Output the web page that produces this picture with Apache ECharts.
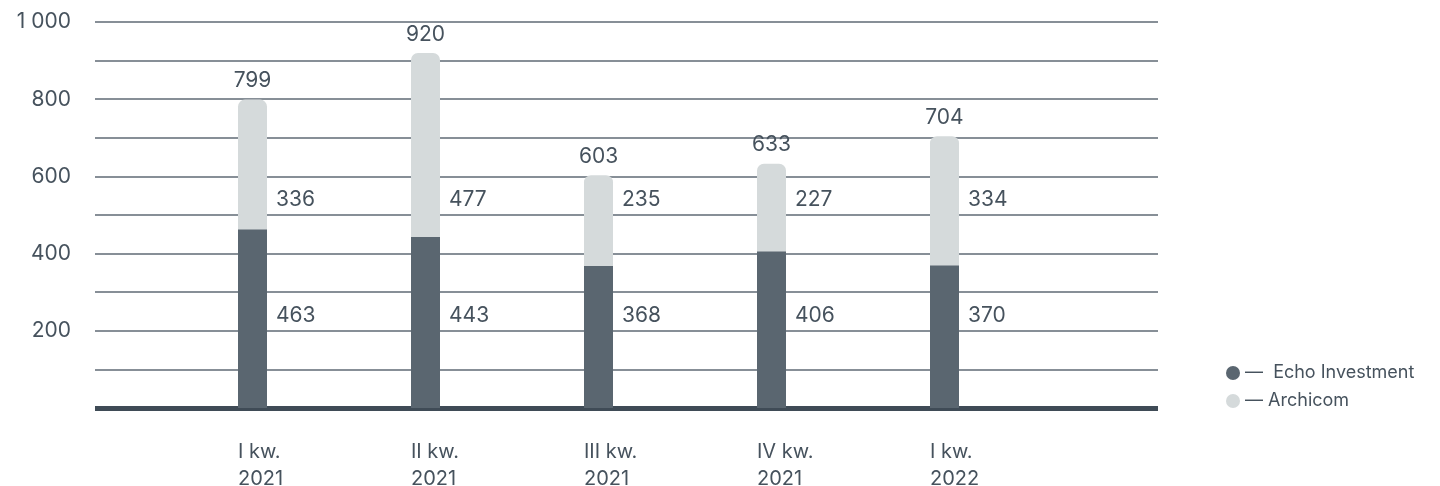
<!DOCTYPE html>
<html>
<head>
<meta charset="utf-8">
<script src="https://cdn.jsdelivr.net/npm/echarts@6/dist/echarts.min.js"></script>
<style>
html,body{margin:0;padding:0;background:#fff;}
#c{width:1440px;height:486px;}
</style>
</head>
<body>
<div id="c"></div>
<script>
const categories = ["I kw.\n2021", "II kw.\n2021", "III kw.\n2021", "IV kw.\n2021", "I kw.\n2022"];
const echoInvestment = [463, 443, 368, 406, 370];
const archicom = [336, 477, 235, 227, 334];
const yTicks = [200, 400, 600, 800, 1000];
const seriesNames = ["Echo Investment", "Archicom"];

const totals = echoInvestment.map((v, i) => v + archicom[i]);

const FONT = 'Inter, "Open Sans", sans-serif';
const TXT = '#46525d';
const DARK = '#5a6670';
const LIGHT = '#d5dadb';
const LINE = '#5f6a74';

const chart = echarts.init(document.getElementById('c'), null, {renderer: 'canvas'});

function fmtY(v) {
  if (yTicks.indexOf(v) < 0) return '';
  return String(v).replace(/\B(?=(\d{3})+(?!\d))/g, ' ');
}

function buildOption(echoPos, archPos) {
  return {
    animation: false,
    textStyle: {fontFamily: FONT},
    grid: [
      {left: 95, right: 282, top: 22, bottom: 78, outerBoundsMode: 'none', containLabel: false},
      {left: 166, right: 409, top: 22, bottom: 78, outerBoundsMode: 'none', containLabel: false},
      {left: 151.5, right: 423.5, top: 22, bottom: 78, outerBoundsMode: 'none', containLabel: false}
    ],
    xAxis: [
      {gridIndex: 0, type: 'value', min: 0, max: 1,
        axisLine: {show: true, lineStyle: {color: '#3f4b56', width: 5, cap: 'butt'}},
        axisTick: {show: false}, axisLabel: {show: false}, splitLine: {show: false}},
      {gridIndex: 1, type: 'category', data: categories,
        axisLine: {show: false}, axisTick: {show: false}, axisLabel: {show: false}},
      {gridIndex: 2, type: 'category', data: categories,
        axisLine: {show: false}, axisTick: {show: false},
        axisLabel: {show: true, align: 'left', margin: 30, color: TXT, fontSize: 20,
          lineHeight: 27, fontFamily: FONT}}
    ],
    yAxis: [
      {gridIndex: 0, type: 'value', min: 0, max: 1000, interval: 100,
        axisLine: {show: false}, axisTick: {show: false},
        axisLabel: {show: true, margin: 24, color: TXT, fontSize: 21, fontFamily: FONT,
          formatter: fmtY},
        splitLine: {show: true, lineStyle: {color: LINE, width: 1.5}}},
      {gridIndex: 1, type: 'value', min: 0, max: 1000, show: false, splitLine: {show: false}},
      {gridIndex: 2, type: 'value', min: 0, max: 1000, show: false, splitLine: {show: false}}
    ],
    legend: {
      orient: 'vertical', left: 1221, top: 359,
      data: seriesNames.map(n => ({name: n, icon: 'circle'})),
      itemWidth: 14, itemHeight: 14, itemGap: 10,
      formatter: n => n === seriesNames[0] ? '—  ' + n : '— ' + n,
      textStyle: {color: TXT, fontSize: 18, fontFamily: FONT, lineHeight: 14},
      selectedMode: false
    },
    series: [
      {
        name: seriesNames[0], type: 'bar', stack: 'total', xAxisIndex: 1, yAxisIndex: 1,
        barWidth: 29,
        itemStyle: {color: DARK},
        data: echoInvestment.map((v, i) => ({
          value: v,
          label: {show: true, position: [38, echoPos[i]], align: 'left', verticalAlign: 'middle',
            color: TXT, fontSize: 21, fontFamily: FONT}
        }))
      },
      {
        name: seriesNames[1], type: 'bar', stack: 'total', xAxisIndex: 1, yAxisIndex: 1,
        barWidth: 29,
        itemStyle: {color: LIGHT, borderRadius: [7, 7, 0, 0]},
        data: archicom.map((v, i) => ({
          value: v,
          label: {show: true, position: [38, archPos[i]], align: 'left', verticalAlign: 'middle',
            color: TXT, fontSize: 21, fontFamily: FONT}
        }))
      },
      {
        name: 'total', type: 'scatter', xAxisIndex: 1, yAxisIndex: 1,
        symbolSize: 0, silent: true,
        itemStyle: {opacity: 1, color: TXT},
        data: totals,
        label: {show: true, position: 'top', distance: 8, color: TXT, fontSize: 21, fontFamily: FONT,
          formatter: p => p.value}
      }
    ]
  };
}

chart.setOption(buildOption(echoInvestment.map(() => 0), archicom.map(() => 0)));
const px = v => chart.convertToPixel({yAxisIndex: 1}, v);
const ECHO_LABEL_AT = 240;
const ARCH_LABEL_AT = 540;
const echoPos = echoInvestment.map(v => px(ECHO_LABEL_AT) - px(v));
const archPos = totals.map(t => px(ARCH_LABEL_AT) - px(t));
chart.setOption(buildOption(echoPos, archPos), true);
</script>
</body>
</html>
